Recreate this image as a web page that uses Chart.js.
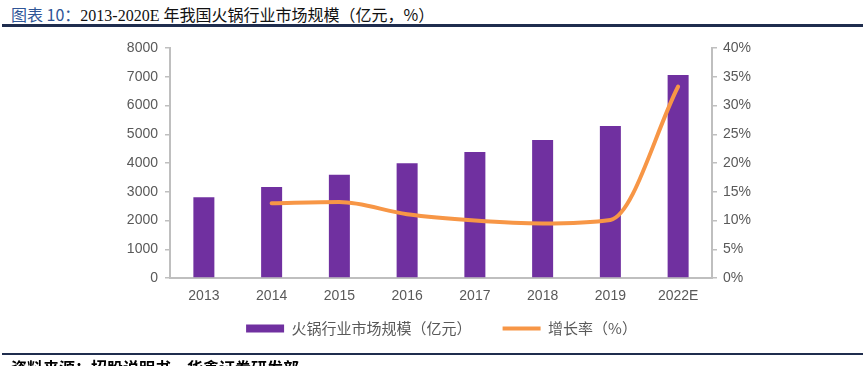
<!DOCTYPE html>
<html lang="zh">
<head>
<meta charset="utf-8">
<title>火锅行业市场规模</title>
<script src="https://cdn.jsdelivr.net/npm/chart.js@4.4.1/dist/chart.umd.min.js"></script>
<style>
  html, body { margin: 0; padding: 0; background: #fff; overflow: hidden; }
  body { width: 863px; height: 366px; position: relative; font-family: "Noto Sans CJK SC", "Liberation Sans", sans-serif; }
  #chart { position: absolute; left: 0; top: 0; }
  .title { position: absolute; left: 11px; top: 4px; font-size: 16px; line-height: 20px; color: #111; white-space: nowrap; }
  .title b { color: #2F5597; font-weight: normal; }
  .title .num { font-family: "Liberation Serif", serif; font-size: 16px; }
  .rule { position: absolute; left: 2px; right: 0; height: 3px; background: #1F2D4E; }
  .source { position: absolute; left: 11px; top: 357px; font-size: 16px; line-height: 20px; font-weight: bold; color: #000; white-space: nowrap; }
</style>
</head>
<body>
<div class="title"><b>图表 10：</b><span class="num">2013-2020E </span>年我国火锅行业市场规模（亿元，%）</div>
<div class="rule" style="top:24px"></div>
<canvas id="chart" width="863" height="366"></canvas>
<div class="rule" style="top:353px;height:2px"></div>
<div class="source">资料来源：招股说明书，华鑫证券研发部</div>

<script>
'use strict';

/* ========================================================
   Data
   ======================================================== */
const years = ['2013', '2014', '2015', '2016', '2017', '2018', '2019', '2022E'];
const marketSize = [2810, 3165, 3595, 3990, 4385, 4800, 5290, 7060];      // 亿元
const growthRate = [null, 13.0, 13.2, 11.1, 10.0, 9.5, 10.1, 33.3];       // %
const leftTicks = { min: 0, max: 8000, step: 1000 };
const rightTicks = { min: 0, max: 40, step: 5 };

/* ========================================================
   Chart
   ======================================================== */
const AXIS = '#BFBFBF';
const TICK = '#595959';
const FONT = "'Liberation Sans', Arial, sans-serif";

// legend sits a little higher and to the right of where Chart.js puts it
const legendShift = {
  id: 'legendShift',
  afterLayout(chart) {
    const lg = chart.legend;
    if (!lg) return;
    const h = lg.bottom - lg.top;
    lg.left += 10;
    lg.right += 10;
    lg.top = 290;
    lg.bottom = 290 + h;
  }
};

new Chart(document.getElementById('chart'), {
  data: {
    labels: years,
    datasets: [
      {
        type: 'bar',
        label: '火锅行业市场规模（亿元）',
        data: marketSize,
        backgroundColor: '#7030A0',
        borderWidth: 0,
        categoryPercentage: 1,
        barPercentage: 0.31,
        yAxisID: 'y',
        order: 2,
      },
      {
        type: 'line',
        label: '增长率（%）',
        data: growthRate,
        borderColor: '#F79646',
        backgroundColor: '#F79646',
        borderWidth: 4,
        borderCapStyle: 'round',
        cubicInterpolationMode: 'monotone',
        pointRadius: 0,
        yAxisID: 'y1',
        order: 1,
      }
    ]
  },
  plugins: [legendShift],
  options: {
    responsive: false,
    animation: false,
    layout: { padding: { top: 48, left: 0, right: 0, bottom: 0 } },
    plugins: {
      tooltip: { enabled: false },
      legend: {
        position: 'bottom',
        labels: {
          color: TICK,
          font: { family: "'Noto Sans CJK SC', sans-serif", size: 15 },
          usePointStyle: true,
          pointStyleWidth: 38,
          boxHeight: 8,
          padding: 31,
          sort: (a, b) => a.datasetIndex - b.datasetIndex,
          generateLabels(chart) {
            const items = Chart.defaults.plugins.legend.labels.generateLabels(chart);
            items.forEach(it => { it.pointStyle = it.datasetIndex === 0 ? 'rect' : 'line'; });
            return items;
          }
        }
      }
    },
    scales: {
      x: {
        grid: { display: false, drawTicks: false },
        border: { display: true, color: AXIS, width: 2 },
        ticks: { color: TICK, font: { family: FONT, size: 14 }, padding: 10 },
        afterFit: s => { s.height = 32; }
      },
      y: {
        position: 'left',
        min: leftTicks.min,
        max: leftTicks.max,
        grid: { drawOnChartArea: false, color: AXIS, tickLength: 5, lineWidth: 1.5 },
        border: { display: true, color: AXIS, width: 2 },
        ticks: { stepSize: leftTicks.step, color: TICK, font: { family: FONT, size: 14 }, padding: 7,
                 callback: v => String(v) },
        afterFit: s => { s.width = 170; }
      },
      y1: {
        position: 'right',
        min: rightTicks.min,
        max: rightTicks.max,
        grid: { drawOnChartArea: false, color: AXIS, tickLength: 5, lineWidth: 1.5 },
        border: { display: true, color: AXIS, width: 2 },
        ticks: { stepSize: rightTicks.step, color: TICK, font: { family: FONT, size: 14 }, padding: 6,
                 callback: v => v + '%' },
        afterFit: s => { s.width = 151; }
      }
    }
  }
});
</script>
</body>
</html>
